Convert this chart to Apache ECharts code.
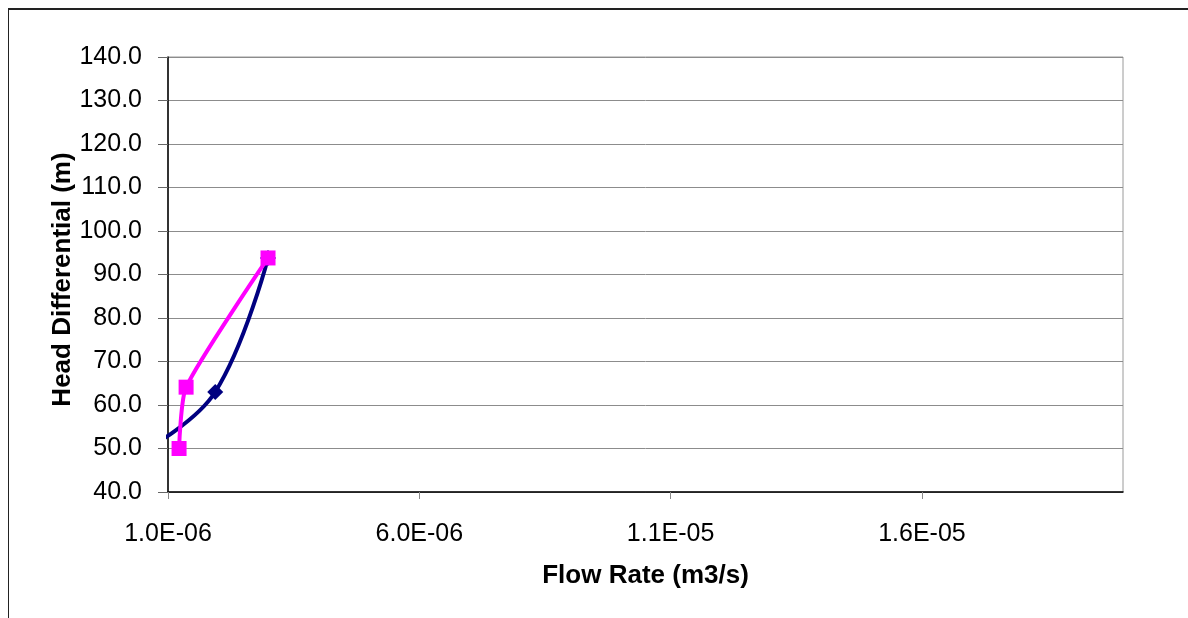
<!DOCTYPE html>
<html>
<head>
<meta charset="utf-8">
<script src="https://cdn.jsdelivr.net/npm/echarts@6/dist/echarts.min.js"></script>
<style>
  html, body { margin: 0; padding: 0; background: #fff; }
  #frame { position: absolute; left: 8px; top: 8px; width: 1300px; height: 700px;
           border-left: 1px solid #222; border-top: 2px solid #222; box-sizing: border-box; }
  #chart { position: absolute; left: 0; top: 0; width: 1188px; height: 618px; }
</style>
</head>
<body>
<div id="frame"></div>
<div id="chart"></div>
<script>
// Flow rate (m3/s) vs. head differential (m)
const seriesNames = ['Series A', 'Series B'];
const flowA = [6.0e-7, 1.94e-6, 2.99e-6];
const headA = [50.0, 63.0, 93.8];
const flowB = [1.22e-6, 1.36e-6, 2.99e-6];
const headB = [50.0, 64.1, 93.8];
const xTicks = [1.0e-6, 6.0e-6, 1.1e-5, 1.6e-5];
const xMin = 1.0e-6, xMax = 2.0e-5;
const yMin = 40, yMax = 140, yStep = 10;

const pairs = (xs, ys) => xs.map((x, i) => [x, ys[i]]);
const sci = v => {
  const e = Math.floor(Math.log10(v) + 1e-9);
  const m = v / Math.pow(10, e);
  const s = e < 0 ? '-' : '+';
  return m.toFixed(1) + 'E' + s + String(Math.abs(e)).padStart(2, '0');
};

const font = 'Liberation Sans, Arial, sans-serif';
const chart = echarts.init(document.getElementById('chart'), null, { renderer: 'canvas' });
chart.setOption({
  animation: false,
  backgroundColor: 'transparent',
  grid: { left: 168, right: 65, top: 57, bottom: 126, show: true,
          borderColor: '#9a9a9a', borderWidth: 1, backgroundColor: '#fff' },
  xAxis: {
    type: 'value', min: xMin, max: xMax,
    name: 'Flow Rate (m3/s)', nameLocation: 'middle', nameGap: 71, nameMoveOverlap: false,
    nameTextStyle: { fontFamily: font, fontSize: 26, fontWeight: 'bold', color: '#000' },
    axisLine: { onZero: false, lineStyle: { color: '#000', width: 1.5 } },
    axisTick: { show: true, length: 7, lineStyle: { color: '#888' }, customValues: xTicks },
    axisLabel: { fontFamily: font, fontSize: 25, color: '#000', margin: 30,
                 customValues: xTicks, formatter: v => sci(v) },
    splitLine: { show: false }
  },
  yAxis: {
    type: 'value', min: yMin, max: yMax, interval: yStep,
    name: 'Head Differential (m)', nameLocation: 'middle', nameGap: 92, nameRotate: 90,
    nameMoveOverlap: false,
    nameTextStyle: { fontFamily: font, fontSize: 26, fontWeight: 'bold', color: '#000',
                     padding: [0, 10, 0, 0] },
    axisLine: { show: true, lineStyle: { color: '#000', width: 1.5 } },
    axisTick: { show: true, length: 10, inside: false, lineStyle: { color: '#666' } },
    axisLabel: { fontFamily: font, fontSize: 25, color: '#000', margin: 26,
                 formatter: v => v.toFixed(1) },
    splitLine: { show: true, lineStyle: { color: '#8c8c8c', width: 1 } }
  },
  series: [
    {
      name: seriesNames[0], type: 'line', smooth: 0.4, clip: true,
      data: pairs(flowA, headA),
      symbol: 'diamond', symbolSize: 16,
      lineStyle: { color: '#000080', width: 4 },
      itemStyle: { color: '#000080' }, z: 2
    },
    {
      name: seriesNames[1], type: 'line', smooth: 0.2, clip: true,
      data: pairs(flowB, headB),
      symbol: 'rect', symbolSize: 15,
      lineStyle: { color: '#ff00ff', width: 4 },
      itemStyle: { color: '#ff00ff' }, z: 3
    }
  ]
});
</script>
</body>
</html>
